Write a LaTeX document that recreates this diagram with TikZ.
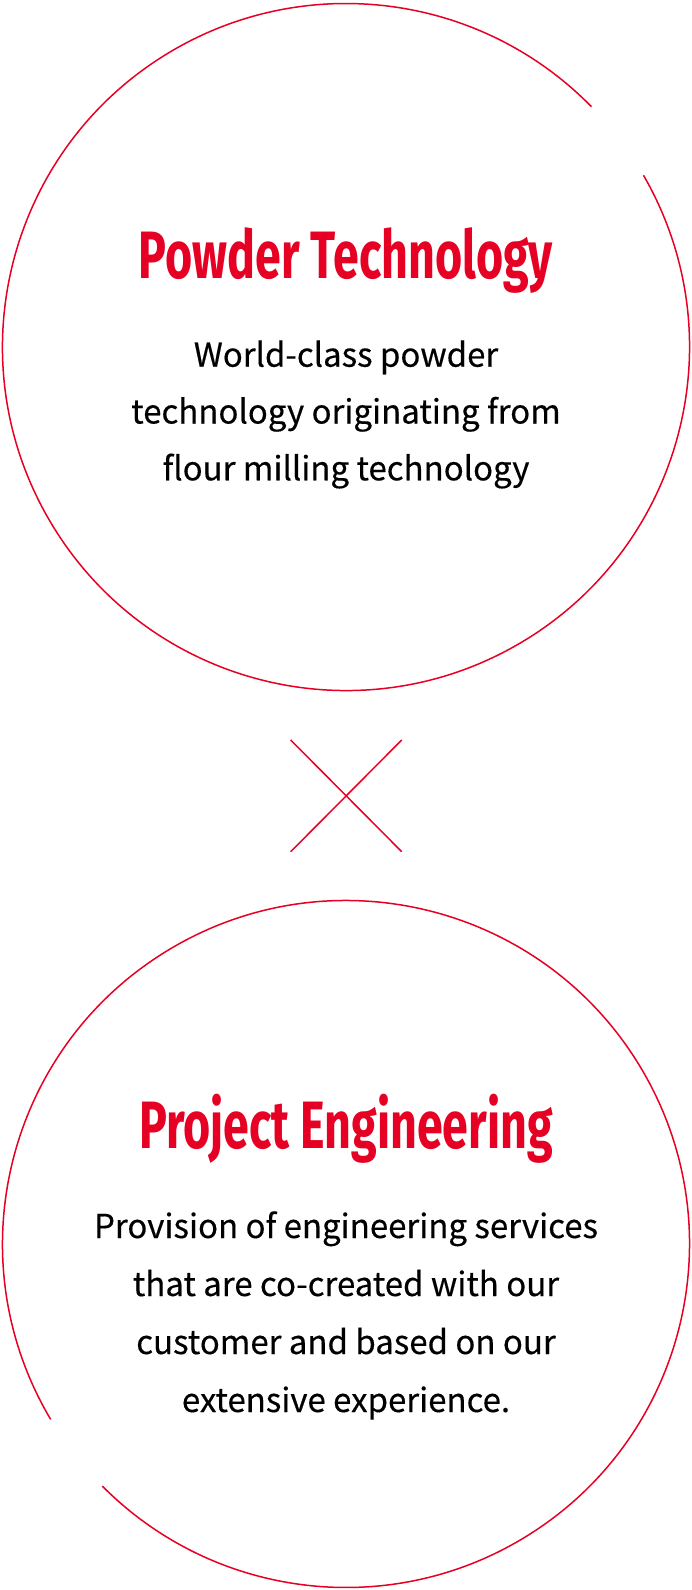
\documentclass[tikz,border=0pt]{standalone}
\usepackage{fontspec}
\setmainfont{Noto Sans CJK JP}[FakeBold=0.35]
\newfontfamily\titlefont{Fira Sans}[FakeStretch=0.695]
\definecolor{brandred}{RGB}{230,0,35}
\begin{document}
\begin{tikzpicture}[x=1pt,y=-1pt,
  ring/.style={draw=brandred,line width=1.5pt},
  crossline/.style={draw=brandred,line width=1.5pt},
  ttl/.style={anchor=base,inner sep=0pt,text=brandred,font=\titlefont\bfseries\fontsize{67}{72}\selectfont},
  bodyline/.style={anchor=base,inner sep=0pt,text=black,font=\fontsize{33}{40}\selectfont}]
\useasboundingbox (0,0) rectangle (692,1590);
\coordinate (c1) at (346,347);
\coordinate (c2) at (346,1244);
% top circle, gap in the upper right
\draw[ring] (c1) ++(-30:343.5) arc[start angle=-30,end angle=315.6,radius=343.5];
% bottom circle, gap in the lower left
\draw[ring] (c2) ++(149.3:343.5) arc[start angle=149.3,end angle=495.2,radius=343.5];
% cross
\coordinate (x1) at (290.7,740);
\coordinate (x2) at (401.7,851.7);
\coordinate (x3) at (401.7,740);
\coordinate (x4) at (290.7,851.7);
\draw[crossline] (x1) -- (x2);
\draw[crossline] (x3) -- (x4);
% texts
\node[ttl] (t1) at (346,278.3) {Powder Technology};
\node[bodyline] (b11) at (346,366.7) {World-class powder};
\node[bodyline] (b12) at (346,423.5) {technology originating from};
\node[bodyline] (b13) at (346,480.3) {flour milling technology};
\node[ttl] (t2) at (346,1148) {Project Engineering};
\node[bodyline] (b21) at (346,1238) {Provision of engineering services};
\node[bodyline] (b22) at (346,1296) {that are co-created with our};
\node[bodyline] (b23) at (346,1354) {customer and based on our};
\node[bodyline] (b24) at (346,1412) {extensive experience.};
\end{tikzpicture}
\end{document}
